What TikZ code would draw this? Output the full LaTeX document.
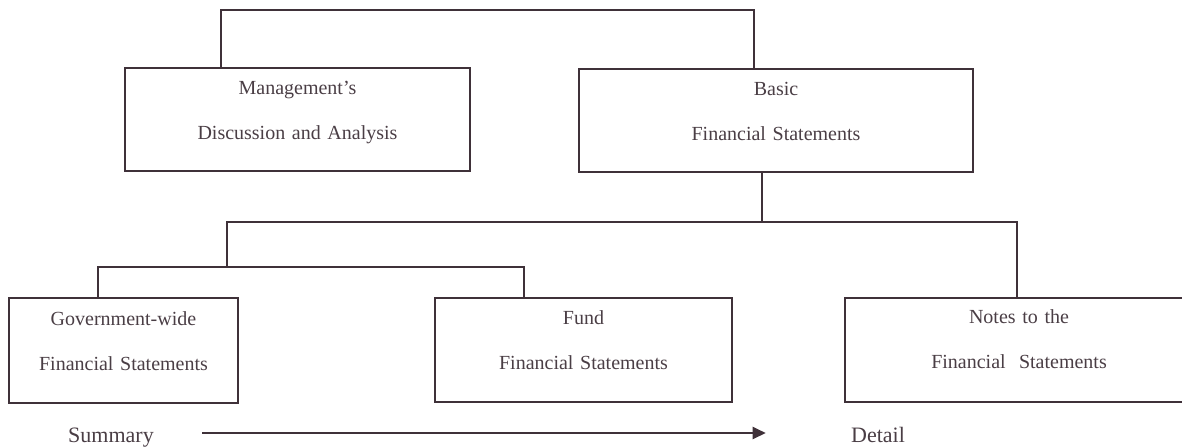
\documentclass[tikz,border=0pt]{standalone}
\usepackage{fontspec}
\setmainfont{Liberation Serif}
\usetikzlibrary{arrows.meta,positioning,calc}
\definecolor{ink}{HTML}{3F3139}
\definecolor{inktext}{HTML}{4A3E45}

\begin{document}
\begin{tikzpicture}[x=0.5pt, y=-0.5pt,
  panel/.style={draw=ink, line width=1pt, inner sep=0pt, outer sep=0pt, anchor=north west},
  paneltext/.style={anchor=base, text width=200pt, align=center, inner sep=0pt, text=inktext, font=\fontsize{10}{22.75}\selectfont},
  link/.style={draw=ink, line width=1pt},
  scalelabel/.style={anchor=base, inner sep=0pt, text height=9pt, text depth=0pt, text=inktext, font=\fontsize{11}{13}\selectfont}]
\useasboundingbox (0,0) rectangle (1182,446);
\clip (0,0) rectangle (1182,446);

% boxes
\node[panel, minimum width=172.5pt, minimum height=51.5pt] (mda) at (125,68) {};
\node[panel, minimum width=197pt, minimum height=51.5pt] (basic) at (579,69) {};
\node[panel, minimum width=114.5pt, minimum height=52.5pt] (gov) at (9,298) {};
\node[panel, minimum width=148.5pt, minimum height=52pt] (fund) at (435,298) {};
\node[panel, minimum width=174pt, minimum height=52pt] (notes) at (845,298) {};

\node[paneltext] (mdatext) at ($(mda.north)+(0,26)$) {Management’s\\Discussion and Analysis};
\node[paneltext] (basictext) at ($(basic.north)+(0,26)$) {Basic\\Financial Statements};
\node[paneltext] (govtext) at ($(gov.north)+(0,27)$) {Government-wide\\Financial Statements};
\node[paneltext] (fundtext) at ($(fund.north)+(0,26)$) {Fund\\Financial Statements};
\node[paneltext] (notestext) at ($(notes.north)+(0,25)$) {Notes to the\\Financial\ \ Statements};

% connectors
\coordinate (branch) at (762,222);
\coordinate (subbranch) at (227,267);
\draw[link] ($(mda.north)+(-76.5,0)$) -- ++(0,-58.5) -| ($(basic.north)+(-22,0)$);
\draw[link] (branch |- basic.south) -- (branch);
\draw[link] (subbranch) |- (branch) -| ($(notes.north)+(-2,0)$);
\draw[link] ($(gov.north)+(-25.5,0)$) |- (subbranch) -| ($(fund.north)+(-59.5,0)$);

% summary to detail
\node[scalelabel] (summary) at (111,442) {Summary};
\node[scalelabel] (detail) at (878,442) {Detail};
\draw[link, -{Triangle[length=6.5pt,width=6pt]}, shorten <=24pt, shorten >=42.5pt] (summary) -- (detail);
\end{tikzpicture}
\end{document}
